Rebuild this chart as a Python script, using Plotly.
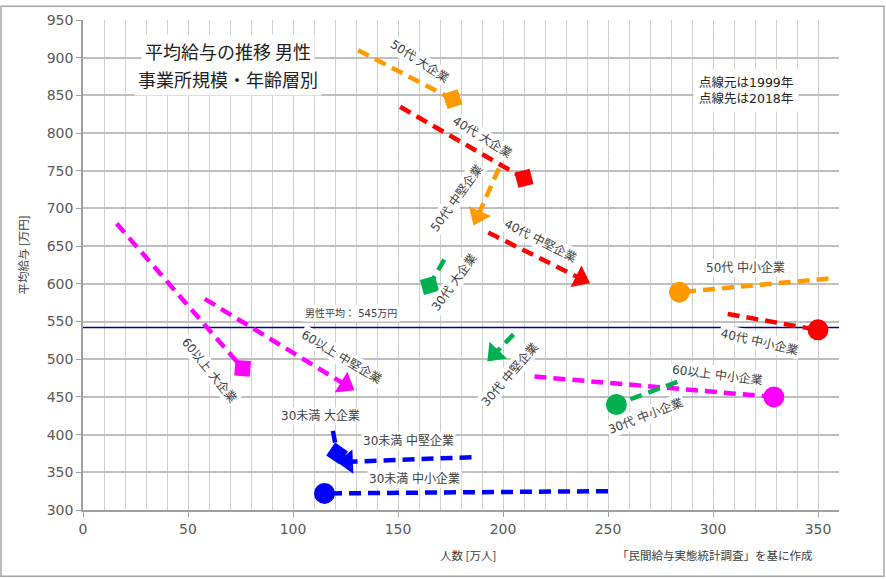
import plotly.graph_objects as go

# ---- data (x: 人数[万人], y: 平均給与[万円]); first = 1999, second = 2018 ----
series_names = [
    "50代 大企業", "40代 大企業", "50代 中堅企業", "40代 中堅企業", "30代 大企業",
    "50代 中小企業", "40代 中小企業", "60以上 大企業", "60以上 中堅企業",
    "30代 中堅企業", "60以上 中小企業", "30代 中小企業",
    "30未満 大企業", "30未満 中堅企業", "30未満 中小企業",
]
people_1999 = [131, 151, 198, 193, 172, 355, 307, 16, 58, 205, 215, 283, 119, 185, 250]
people_2018 = [176, 210, 188, 237, 165, 284, 350, 76, 125, 196, 329, 254, 121, 126, 115]
salary_1999 = [910, 835, 753, 668, 632, 607, 560, 680, 580, 533, 477, 470, 405, 370, 325]
salary_2018 = [845, 740, 690, 607, 598, 589, 539, 488, 466, 507, 450, 440, 375, 364, 322]
age_group = ["50代", "40代", "50代", "40代", "30代", "50代", "40代", "60以上", "60以上",
             "30代", "60以上", "30代", "30未満", "30未満", "30未満"]
company_size = ["大企業", "大企業", "中堅企業", "中堅企業", "大企業", "中小企業", "中小企業",
                "大企業", "中堅企業", "中堅企業", "中小企業", "中小企業", "大企業", "中堅企業", "中小企業"]
male_average = 542
male_average_label = "男性平均： 545万円"
title_lines = ["平均給与の推移 男性", "事業所規模・年齢層別"]
x_ticks = [0, 50, 100, 150, 200, 250, 300, 350]
y_ticks = [300, 350, 400, 450, 500, 550, 600, 650, 700, 750, 800, 850, 900, 950]

# ---- styles ----
age_color = {"30未満": "#0000FF", "30代": "#00B050", "40代": "#FF0000",
             "50代": "#FF9900", "60以上": "#FF00FF"}
size_symbol = {"大企業": ("diamond", 17), "中堅企業": ("triangle-up", 21), "中小企業": ("circle", 21)}

# label layout: (x, y, angle) in data space
label_pos = {
    "50代 大企業": (160, 895, 33),
    "40代 大企業": (190, 795, 32),
    "50代 中堅企業": (178, 714, -54),
    "40代 中堅企業": (218, 657, 27),
    "30代 大企業": (177, 602, -54),
    "50代 中小企業": (315.5, 622, 0),
    "40代 中小企業": (322, 523, 13),
    "60以上 大企業": (60, 486, 51),
    "60以上 中堅企業": (123, 503, 31),
    "30代 中堅企業": (203, 480, -49),
    "60以上 中小企業": (302, 480, 7),
    "30代 中小企業": (268, 425, -21),
    "30未満 大企業": (113, 425, 0),
    "30未満 中堅企業": (155, 392, 0),
    "30未満 中小企業": (158, 342, 0),
}

FONT = "DejaVu Sans, Noto Sans CJK JP"
CJK = "Noto Sans CJK JP"
TXT = "#404040"

fig = go.Figure()

# male average line
fig.add_trace(go.Scatter(x=[0, 360], y=[male_average, male_average], mode="lines",
                         line=dict(color="#000099", width=1.5), hoverinfo="skip", showlegend=False))

for i, name in enumerate(series_names):
    col = age_color[age_group[i]]
    sym, sz = size_symbol[company_size[i]]
    fig.add_trace(go.Scatter(
        x=[people_1999[i], people_2018[i]],
        y=[salary_1999[i], salary_2018[i]],
        mode="lines+markers",
        name=name,
        line=dict(color=col, width=4.5, dash="12px,7px"),
        marker=dict(symbol=sym, size=[0, sz], color=col, angleref="previous",
                    opacity=1, line=dict(width=0)),
        showlegend=False,
    ))

annotations = []
for name, (lx, ly, ang) in label_pos.items():
    annotations.append(dict(x=lx, y=ly, xref="x", yref="y", text=name, showarrow=False,
                            textangle=ang, font=dict(family=FONT, size=12, color=TXT),
                            bgcolor="white", borderpad=1))

annotations += [
    dict(x=127.4, y=561, xref="x", yref="y", text=male_average_label, showarrow=False,
         font=dict(family=FONT, size=10, color=TXT), bgcolor="white", borderpad=2),
    dict(x=69, y=909, xref="x", yref="y", text=title_lines[0],
         showarrow=False, font=dict(family=CJK, size=18, color="#222222"),
         bgcolor="white", borderpad=3),
    dict(x=69, y=872, xref="x", yref="y", text=title_lines[1],
         showarrow=False, font=dict(family=CJK, size=18, color="#222222"),
         bgcolor="white", borderpad=3),
    dict(x=315.5, y=856, xref="x", yref="y", text="点線元は1999年<br>点線先は2018年",
         showarrow=False, font=dict(family=FONT, size=12.5, color="#222222"),
         bgcolor="white", borderpad=5),
    dict(x=(468 - 83) / 756, y=(510 - 555) / 495, xref="paper", yref="paper",
         xanchor="center", yanchor="middle",
         text="人数 [万人]", showarrow=False, font=dict(family=CJK, size=11.5, color=TXT)),
    dict(x=(715 - 83) / 756, y=(510 - 555) / 495, xref="paper", yref="paper",
         xanchor="center", yanchor="middle",
         text="「民間給与実態統計調査」を基に作成", showarrow=False,
         font=dict(family=CJK, size=11.5, color=TXT)),
    dict(x=(23 - 83) / 756, y=(510 - 253) / 495, xref="paper", yref="paper",
         xanchor="center", yanchor="middle",
         text="平均給与 [万円]", textangle=-90, showarrow=False,
         font=dict(family=CJK, size=11.5, color=TXT)),
]

shapes = [dict(type="rect", xref="paper", yref="paper",
               x0=(1 - 83) / 756, x1=(884 - 83) / 756,
               y0=(510 - 577) / 495, y1=(510 - 1) / 495,
               line=dict(color="#a6a6a6", width=1.5), layer="below")]

fig.update_layout(
    width=886, height=579,
    margin=dict(l=83, r=47, t=15, b=69),
    paper_bgcolor="white", plot_bgcolor="white",
    annotations=annotations, shapes=shapes,
    font=dict(family=FONT, color=TXT),
    xaxis=dict(range=[0, 360], tickvals=x_ticks, showgrid=True, gridcolor="#c8c8c8",
               griddash="dot", gridwidth=1,
               minor=dict(dtick=10, showgrid=True, gridcolor="#d0d0d0", gridwidth=1,
                          griddash="solid"),
               showline=True, linecolor="#a0a0a0", linewidth=1.5,
               ticks="outside", ticklen=5, tickcolor="#a0a0a0",
               tickfont=dict(family="DejaVu Sans", size=14, color="#595959"),
               zeroline=False),
    yaxis=dict(range=[300, 950], tickvals=y_ticks, showgrid=True, gridcolor="#bfbfbf",
               gridwidth=1.5, showline=True, linecolor="#a0a0a0", linewidth=1.5,
               ticks="outside", ticklen=5, tickcolor="#a0a0a0",
               tickfont=dict(family="DejaVu Sans", size=14, color="#595959"),
               zeroline=False),
)

fig.write_html("out.html", config={"displayModeBar": False},
               post_script="document.body.style.margin='0';")
